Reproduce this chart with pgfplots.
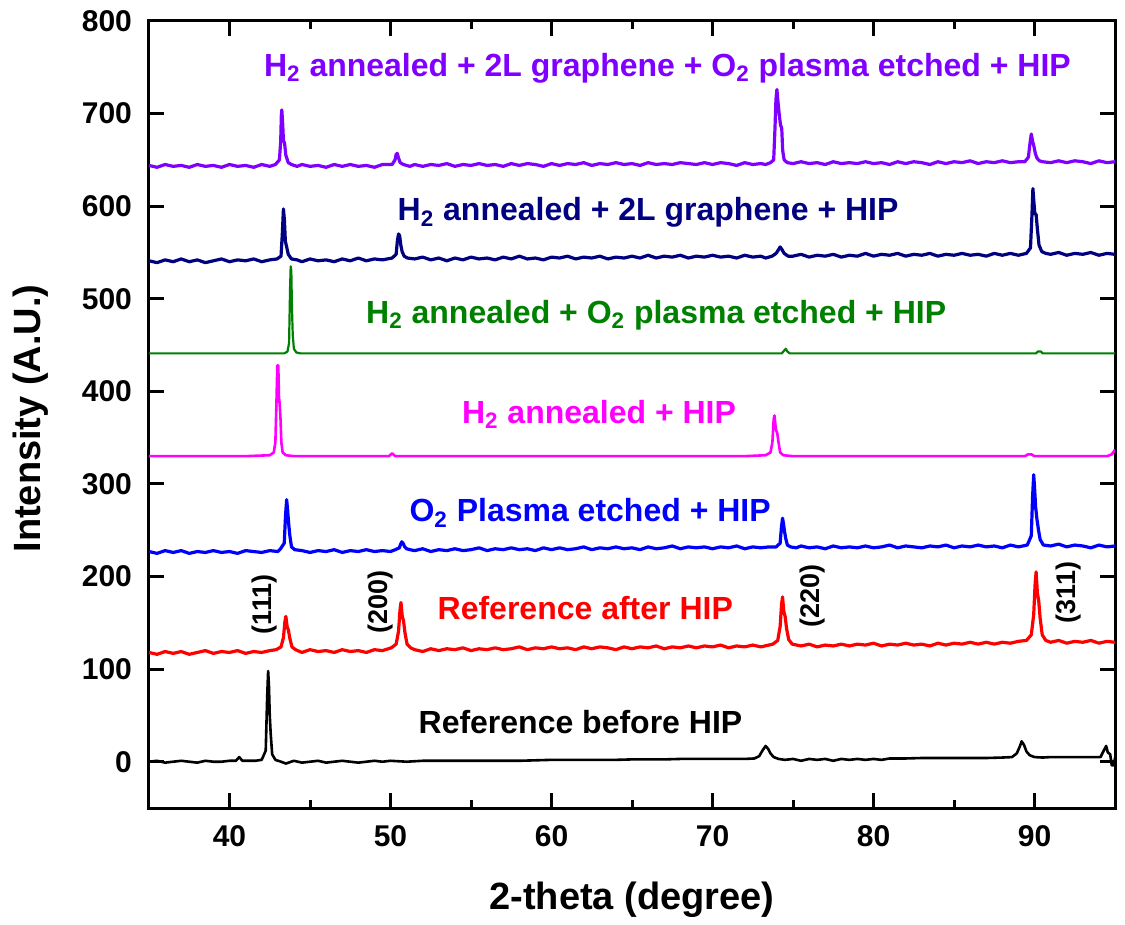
\documentclass[border=0pt]{standalone}
\usepackage{fontspec}
\setmainfont{Liberation Sans}
\usepackage{pgfplots}
\pgfplotsset{compat=1.18}

\definecolor{cviolet}{RGB}{128,0,255}
\definecolor{cnavy}{RGB}{0,0,128}
\definecolor{cgreen}{RGB}{0,128,0}
\definecolor{cmagenta}{RGB}{255,0,255}
\definecolor{cblue}{RGB}{0,0,255}
\definecolor{cred}{RGB}{255,0,0}

\newcommand{\lab}{\fontsize{16}{18}\selectfont\bfseries}
\newcommand{\hkl}{\fontsize{13.5}{15}\selectfont\bfseries}

\begin{document}
\begin{tikzpicture}
\begin{axis}[
  name=ax,
  scale only axis,
  width=483pt, height=393.5pt,
  xmin=35, xmax=95, ymin=-50, ymax=800,
  xtick={40,50,...,90}, minor x tick num=1,
  ytick={0,100,...,800},
  tick align=inside,
  major tick length=7.5pt, minor tick length=4pt,
  every tick/.style={line width=1.5pt, black},
  axis line style={line width=1.5pt},
  /pgf/number format/assume math mode=true,
  ticklabel style={font=\fontsize{15}{17}\selectfont\bfseries},
  xticklabel style={yshift=-5pt},
  yticklabel style={xshift=-5pt},
  xlabel={2-theta (degree)},
  ylabel={Intensity (A.U.)},
  xlabel style={font=\fontsize{19}{22}\selectfont\bfseries, at={(axis description cs:0.5,-0.117)}, anchor=center},
  ylabel style={font=\fontsize{19}{22}\selectfont\bfseries, at={(axis description cs:-0.123,0.495)}, anchor=center},
  clip=true,
  every axis plot/.append style={line width=1.6pt, line join=round},
]

% Reference before HIP
\addplot[black, line width=1.3pt] coordinates {
(35,0)(35.5,1)(36,-1)(36.5,0)(37,1)(37.5,0)(38,-1)(38.5,1)(39,0)(39.5,0)(40,1)(40.4,1)(40.6,5)(40.8,1)(41.2,1)(41.6,1)(42.0,2)(42.25,12)(42.34,70)(42.4,98)(42.45,82)(42.5,50)(42.56,30)(42.65,8)(42.85,2)(43.2,0)(43.5,-2)(44,1)(44.5,-1)(45,0)(45.5,1)(46,-1)(46.5,0)(47,1)(47.5,0)(48,-1)(48.5,0)(49,1)(49.5,0)(50,1)(51,0)(52,1)(53,1)(54,1)(55,1)(56,1)(57,1)(58,1)(59,1.5)(60,2)(61,2)(62,2)(63,2)(64,2)(65,2.5)(66,2.5)(67,2.5)(68,3)(69,3)(70,3)(71,3)(72,3)(72.6,3.5)(72.9,6)(73.1,12)(73.3,17)(73.45,14)(73.6,9)(73.8,5)(74.1,3)(74.5,2)(75,3)(75.5,1)(76,3)(76.5,2)(77,3)(77.5,1)(78,3)(78.5,2)(79,3)(79.5,2)(80,3)(80.5,2)(81,3.5)(82,3.5)(83,4)(84,4)(85,4)(86,4)(87,4)(88,4.5)(88.6,5)(88.9,9)(89.1,17)(89.2,22)(89.35,18)(89.5,11)(89.7,7)(90,5)(90.5,4.5)(91,5)(92,5)(93,5)(93.7,5)(94.1,5)(94.3,12)(94.45,17)(94.55,10)(94.7,8)(94.8,-4)(94.9,-4)(95,4)
};

% Reference after HIP
\addplot[cred] coordinates {
(35,118)(35.5,116)(36,119)(36.5,117)(37,119)(37.5,116)(38,118)(38.5,120)(39,117)(39.5,119)(40,118)(40.5,120)(41,117)(41.5,119)(42,118)(42.5,120)
(42.9,121)(43.2,124)(43.35,134)(43.44,151)(43.5,157)(43.58,146)(43.66,142)(43.75,133)(43.88,124)(44.1,121)
(44.5,118)(45,121)(45.5,119)(46,120)(46.5,118)(47,121)(47.5,119)(48,120)(48.5,118)(49,121)(49.5,120)
(50.05,123)(50.35,127)(50.5,141)(50.59,164)(50.65,172)(50.73,157)(50.81,152)(50.9,139)(51.03,127)(51.25,123)
(51.5,121)(52,119)(52.5,122)(53,120)(53.5,122)(54,121)(54.5,123)(55,120)(55.5,122)(56,121)(56.5,123)(57,121)(57.5,122)(58,124)(58.5,121)(59,123)(59.5,122)(60,124)(60.5,122)(61,123)(61.5,121)(62,124)(62.5,122)(63,124)(63.5,123)(64,121)(64.5,124)(65,122)(65.5,124)(66,123)(66.5,125)(67,122)(67.5,124)(68,123)(68.5,125)(69,123)(69.5,125)(70,124)(70.5,126)(71,123)(71.5,125)(72,124)(72.5,126)(73,124)(73.5,126)
(73.75,127)(74.05,131)(74.2,146)(74.29,170)(74.35,178)(74.43,162)(74.51,157)(74.6,144)(74.73,132)(74.95,127)
(75.5,125)(76,127)(76.5,124)(77,126)(77.5,125)(78,127)(78.5,125)(79,127)(79.5,126)(80,128)(80.5,125)(81,127)(81.5,126)(82,128)(82.5,126)(83,127)(83.5,125)(84,128)(84.5,126)(85,128)(85.5,127)(86,129)(86.5,127)(87,129)(87.5,127)(88,129)(88.5,128)(89,130)
(89.5,131)(89.8,137)(89.95,159)(90.04,193)(90.1,205)(90.18,182)(90.26,174)(90.35,155)(90.48,137)(90.7,131)
(91,129)(91.5,131)(92,128)(92.5,130)(93,129)(93.5,131)(94,128)(94.5,130)(95,129)
};

% O2 plasma etched + HIP
\addplot[cblue] coordinates {
(35,227)(35.5,225)(36,228)(36.5,226)(37,228)(37.5,225)(38,227)(38.5,226)(39,228)(39.5,226)(40,227)(40.5,225)(41,228)(41.5,227)(42,226)(42.5,228)(43,227)
(43.15,229.5)(43.4,236)(43.48,266)(43.55,283)(43.61,272)(43.67,258)(43.75,244)(43.85,232)(44.05,229)
(44.5,228)(45,226)(45.5,228)(46,227)(46.5,229)(47,226)(47.5,228)(48,227)(48.5,229)(49,227)(49.5,228)(50,227)
(50.3,229)(50.55,231)(50.63,235)(50.7,237.5)(50.78,236)(50.88,232)(51.0,230)(51.2,229)
(51.5,228)(52,230)(52.5,227)(53,229)(53.5,228)(54,230)(54.5,228)(55,229)(55.5,231)(56,228)(56.5,230)(57,229)(57.5,231)(58,229)(58.5,230)(59,228)(59.5,231)(60,229)(60.5,231)(61,229)(61.5,230)(62,232)(62.5,229)(63,231)(63.5,230)(64,232)(64.5,230)(65,231)(65.5,229)(66,232)(66.5,230)(67,231)(67.5,233)(68,230)(68.5,232)(69,231)(69.5,232)(70,230)(70.5,232)(71,231)(71.5,233)(72,230)(72.5,232)(73,231)(73.5,232)
(73.95,232)(74.2,236)(74.28,253)(74.35,263)(74.41,257)(74.47,249)(74.55,241)(74.65,234)(74.85,232)
(75.2,231)(75.5,233)(76,231)(76.5,232)(77,230)(77.5,233)(78,231)(78.5,232)(79,231)(79.5,233)(80,231)(80.5,232)(81,234)(81.5,231)(82,233)(82.5,232)(83,231)(83.5,233)(84,232)(84.5,234)(85,231)(85.5,233)(86,232)(86.5,234)(87,232)(87.5,233)(88,231)(88.5,234)(89,232)
(89.55,234)(89.8,244)(89.88,286)(89.95,310)(90.01,294)(90.07,275)(90.15,262)(90.25,250)(90.35,240)(90.55,234)
(91,233)(91.5,235)(92,232)(92.5,234)(93,233)(93.5,231)(94,234)(94.5,232)(95,233)
};

% H2 annealed + HIP
\addplot[cmagenta, line width=1.3pt] coordinates {
(35,330)(37,330)(39,330)(41,330)(42.5,331)(42.75,334)(42.85,345)(42.92,390)(42.97,428)(43.03,428)(43.07,395)(43.12,385)(43.17,370)(43.22,345)(43.3,334)(43.5,331)(44,330)(46,330)(48,330)(49.9,330)(50.1,333)(50.3,330)(52,330)(56,330)(60,330)(64,330)(68,330)(72,330)(73.3,331)(73.6,334)(73.72,345)(73.8,370)(73.85,374)(73.9,365)(73.95,358)(74.02,355)(74.1,345)(74.2,334)(74.4,331)(75,330)(80,330)(85,330)(89.4,330)(89.6,332)(89.8,332)(90.0,330)(92,330)(94.5,330)(94.8,332)(95,337)
};

% H2 annealed + O2 plasma etched + HIP
\addplot[cgreen, line width=1.1pt] coordinates {
(35,441)(40,441)(43.4,441)(43.6,443)(43.7,452)(43.76,510)(43.8,535)(43.84,530)(43.88,490)(43.93,460)(44.0,446)(44.15,442)(44.4,441)(50,441)(60,441)(70,441)(74.3,441)(74.45,444)(74.55,446)(74.65,443)(74.8,441)(80,441)(90.1,441)(90.2,443)(90.4,443)(90.5,441)(95,441)
};

% H2 annealed + 2L graphene + HIP
\addplot[cnavy] coordinates {
(35,541)(35.5,539)(36,542)(36.5,540)(37,543)(37.5,540)(38,542)(38.5,539)(39,541)(39.5,543)(40,540)(40.5,542)(41,541)(41.5,543)(42,540)(42.5,542)
(42.95,543)(43.2,546)(43.28,570)(43.35,597)(43.41,585)(43.47,562)(43.55,556)(43.65,548)(43.85,543)
(44.2,542)(44.5,540)(45,543)(45.5,541)(46,542)(46.5,540)(47,543)(47.5,541)(48,544)(48.5,541)(49,543)(49.5,542)
(50.1,544)(50.35,548)(50.43,563)(50.5,570)(50.57,568)(50.64,558)(50.72,551)(50.85,546)(51.05,544)
(51.5,543)(52,545)(52.5,542)(53,544)(53.5,541)(54,544)(54.5,542)(55,545)(55.5,543)(56,544)(56.5,542)(57,545)(57.5,543)(58,546)(58.5,543)(59,544)(59.5,542)(60,545)(60.5,544)(61,546)(61.5,543)(62,545)(62.5,544)(63,546)(63.5,543)(64,545)(64.5,544)(65,546)(65.5,544)(66,547)(66.5,544)(67,546)(67.5,545)(68,547)(68.5,544)(69,546)(69.5,545)(70,547)(70.5,545)(71,546)(71.5,544)(72,547)(72.5,545)(73,546)(73.3,544)
(73.7,546)(73.95,549)(74.1,553)(74.2,556)(74.32,553)(74.45,549)(74.7,546)
(75,546)(75.5,548)(76,545)(76.5,547)(77,546)(77.5,548)(78,545)(78.5,547)(79,546)(79.5,549)(80,546)(80.5,548)(81,547)(81.5,549)(82,546)(82.5,548)(83,547)(83.5,549)(84,546)(84.5,548)(85,547)(85.5,549)(86,547)(86.5,548)(87,546)(87.5,549)(88,547)(88.5,549)(89,547)
(89.5,549)(89.75,555)(89.84,590)(89.9,619)(89.96,605)(90.02,592)(90.1,591)(90.18,575)(90.28,558)(90.45,551)(90.7,549)
(91,548)(91.5,550)(92,547)(92.5,549)(93,548)(93.5,550)(94,547)(94.5,549)(95,548)
};

% H2 annealed + 2L graphene + O2 plasma etched + HIP
\addplot[cviolet] coordinates {
(35,644)(35.5,642)(36,645)(36.5,643)(37,644)(37.5,642)(38,645)(38.5,643)(39,644)(39.5,642)(40,645)(40.5,643)(41,644)(41.5,642)(42,645)(42.5,643)
(42.85,645)(43.1,650)(43.18,670)(43.22,698)(43.25,704)(43.3,690)(43.35,671)(43.42,668)(43.5,655)(43.65,647)(43.85,645)
(44.2,643)(44.5,645)(45,643)(45.5,644)(46,642)(46.5,645)(47,643)(47.5,645)(48,643)(48.5,644)(49,642)(49.5,645)
(50.1,645)(50.28,650)(50.35,656)(50.42,657)(50.5,652)(50.6,647)(50.8,645)
(51.2,643)(51.5,645)(52,643)(52.5,645)(53,644)(53.5,646)(54,643)(54.5,645)(55,644)(55.5,646)(56,644)(56.5,645)(57,643)(57.5,646)(58,644)(58.5,646)(59,645)(59.5,643)(60,646)(60.5,644)(61,646)(61.5,645)(62,647)(62.5,644)(63,646)(63.5,645)(64,647)(64.5,645)(65,646)(65.5,644)(66,647)(66.5,645)(67,646)(67.5,645)(68,647)(68.5,646)(69,645)(69.5,647)(70,645)(70.5,647)(71,646)(71.5,644)(72,647)(72.5,645)(73,646)(73.3,645)
(73.6,647)(73.8,650)(73.88,684)(73.94,715)(74.0,726)(74.07,712)(74.14,700)(74.22,688)(74.3,684)(74.36,660)(74.45,650)(74.65,647)
(75,646)(75.5,648)(76,646)(76.5,647)(77,645)(77.5,648)(78,646)(78.5,647)(79,646)(79.5,648)(80,646)(80.5,647)(81,645)(81.5,648)(82,646)(82.5,648)(83,647)(83.5,645)(84,648)(84.5,646)(85,648)(85.5,647)(86,649)(86.5,646)(87,648)(87.5,647)(88,649)(88.5,647)(89,648)
(89.4,648)(89.62,653)(89.72,668)(89.8,678)(89.88,670)(89.96,665)(90.05,657)(90.15,652)(90.3,649)(90.5,648)
(91,647)(91.5,649)(92,647)(92.5,649)(93,648)(93.5,646)(94,649)(94.5,647)(95,648)
};

% series labels
\node[anchor=base, text=cviolet, font=\lab] at (axis cs:67.2,740) {H\textsubscript{2} annealed + 2L graphene + O\textsubscript{2} plasma etched + HIP};
\node[anchor=base, text=cnavy, font=\lab] at (axis cs:66.0,584) {H\textsubscript{2} annealed + 2L graphene + HIP};
\node[anchor=base, text=cgreen, font=\lab] at (axis cs:66.5,473) {H\textsubscript{2} annealed + O\textsubscript{2} plasma etched + HIP};
\node[anchor=base, text=cmagenta, font=\lab] at (axis cs:62.95,365.6) {H\textsubscript{2} annealed + HIP};
\node[anchor=base, text=cblue, font=\lab] at (axis cs:62.4,259) {O\textsubscript{2} Plasma etched + HIP};
\node[anchor=base, text=cred, font=\lab] at (axis cs:62.1,154) {Reference after HIP};
\node[anchor=base, text=black, font=\lab] at (axis cs:61.8,30) {Reference before HIP};

% reflection indices
\node[rotate=90, font=\hkl] at (axis cs:42.2,170) {(111)};
\node[rotate=90, font=\hkl] at (axis cs:49.35,173) {(200)};
\node[rotate=90, font=\hkl] at (axis cs:76.2,178.5) {(220)};
\node[rotate=90, font=\hkl] at (axis cs:92.1,183) {(311)};
\end{axis}
\path ([shift={(-74.5pt,-55pt)}]ax.south west) rectangle ([shift={(5pt,10.5pt)}]ax.north east);
\end{tikzpicture}
\end{document}
